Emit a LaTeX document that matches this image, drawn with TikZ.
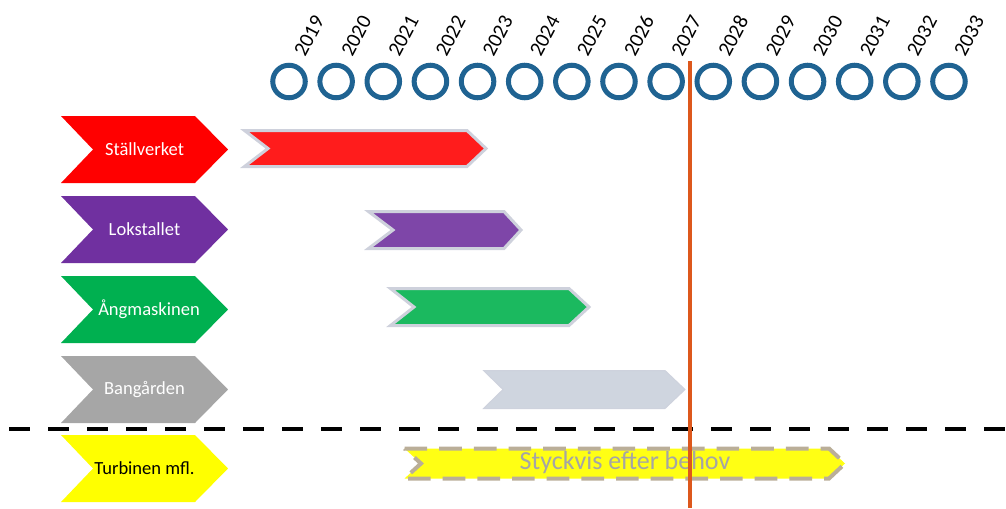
\documentclass[tikz,border=0pt]{standalone}
\usepackage{fontspec}
\setmainfont{Carlito}

% colours
\definecolor{ringblue}{RGB}{31,99,146}
\definecolor{nowline}{RGB}{221,88,28}
\definecolor{barrim}{RGB}{206,209,220}
\definecolor{tanrim}{RGB}{186,174,152}
\definecolor{cRed}{RGB}{255,0,0}
\definecolor{cPurple}{RGB}{112,48,160}
\definecolor{cGreen}{RGB}{0,176,80}
\definecolor{cGray}{RGB}{166,166,166}
\definecolor{cYellow}{RGB}{255,255,0}
\definecolor{bRed}{RGB}{255,28,28}
\definecolor{bPurple}{RGB}{126,70,168}
\definecolor{bGreen}{RGB}{27,185,95}
\definecolor{bGray}{RGB}{207,213,223}
\definecolor{bYellow}{RGB}{255,255,20}
\definecolor{hintgray}{RGB}{165,165,165}

% chevron: style, left, notch, corner, tip, top, bottom
\newcommand\chevron[7]{%
  \path[#1] (#2,#6) -- (#4,#6) -- (#5,{(#6+#7)/2}) -- (#4,#7) -- (#2,#7)
    -- (#3,{(#6+#7)/2}) -- cycle;}

\begin{document}
\begin{tikzpicture}[x=0.75pt,y=-0.75pt,
  chevlabel/.style={text=white, font=\fontsize{13.9pt}{16pt}\selectfont, inner sep=0pt},
  yearlabel/.style={font=\fontsize{15.6pt}{18pt}\selectfont, rotate=62,
    anchor=base west, inner sep=0pt},
  ring/.style={draw=ringblue, line width=3.75pt},
  barbox/.style={draw=barrim, line width=2.25pt, line join=miter},
]
\useasboundingbox (0,0) rectangle (1006,508);

% year rings and labels
\foreach \yr [count=\i from 0] in {2019,...,2033}{
  \pgfmathsetmacro\cx{289+47.14*\i}
  \draw[ring] (\cx,81.5) circle[radius=12.2pt];
  \node[yearlabel] (y\yr) at (\cx+16,58) {\yr};
}

% category chevrons
\chevron{fill=cRed}{61}{93}{195}{228}{116}{183}
\chevron{fill=cPurple}{61}{93}{195}{228}{196}{263}
\chevron{fill=cGreen}{61}{93}{195}{228}{276}{343}
\chevron{fill=cGray}{61}{93}{195}{228}{356}{423}
\chevron{fill=cYellow}{61}{93}{195}{228}{435}{502}

\node[chevlabel] (stallverket) at (144.5,149.5) {Ställverket};
\node[chevlabel] (lokstallet)  at (144.5,229.5) {Lokstallet};
\node[chevlabel] (angmaskinen) at (149,309.5) {Ångmaskinen};
\node[chevlabel] (bangarden)   at (144.5,389.5) {Bangården};
\node[chevlabel, text=black] (turbinen) at (144.5,468.5) {Turbinen mfl.};

% time bars
\chevron{barbox, fill=bRed}{244.5}{268}{467}{486}{130.5}{166.5}
\chevron{barbox, fill=bPurple}{368.5}{393}{504}{521}{211.5}{248.5}
\chevron{barbox, fill=bGreen}{390.5}{414}{569}{589}{288.5}{325.5}
\chevron{draw=barrim!80!bGray, line width=0.75pt, fill=bGray}{483.5}{503}{665}{685}{370.5}{408.5}
\chevron{draw=tanrim, line width=3pt, dash pattern=on 17pt off 9pt,
  fill=bYellow}{404.5}{421}{829}{845}{448.5}{478.5}
\node[text=hintgray, font=\fontsize{19.5pt}{22pt}\selectfont, inner sep=0pt]
  (styckvis) at (625,463) {Styckvis efter behov};

% divider
\coordinate (divL) at (9,429);
\coordinate (divR) at (1006,429);
\draw[line width=3.4pt, dash pattern=on 15.75pt off 13.5pt] (divL) -- (divR);

% current-time marker
\coordinate (nowT) at (690,61);
\coordinate (nowB) at (690,508);
\draw[nowline, line width=3pt] (nowT) -- (nowB);
\end{tikzpicture}
\end{document}
